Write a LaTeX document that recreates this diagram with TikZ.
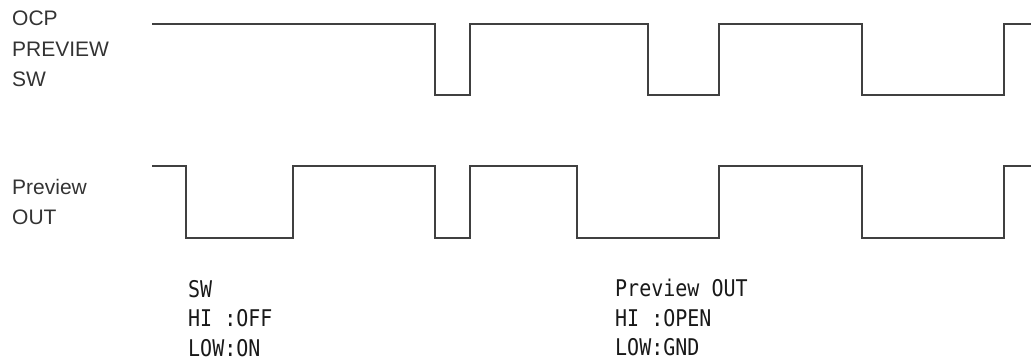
\documentclass[tikz,border=0pt]{standalone}
\usepackage{graphicx}
\usepackage{fontspec}
\setmainfont{Liberation Sans}
\setmonofont{DejaVu Sans Mono}
\newcommand{\tallmono}[1]{\scalebox{1}[1.15]{#1}}
\tikzset{
  signal/.style={line width=1.3pt, black!75, line join=miter},
  sig label/.style={anchor=north west, inner sep=0pt, align=left, text=black!80,
    font=\fontsize{21}{30.5}\selectfont},
  note label/.style={anchor=north west, inner sep=0pt, align=left, text=black!90,
    font=\ttfamily\fontsize{20}{29.5}\selectfont},
}
\begin{document}
\begin{tikzpicture}[x=1pt,y=-1pt]
  \useasboundingbox (0,0) rectangle (1031,360);
  % signal names
  \node[sig label] (swname) at (12,11) {OCP\\PREVIEW\\SW};
  \node[sig label] (outname) at (12,179) {Preview\\OUT};
  % OCP PREVIEW SW
  \draw[signal] (152,24) -- (435,24) -- (435,95) -- (470,95) -- (470,24)
    -- (648,24) -- (648,95) -- (719,95) -- (719,24)
    -- (862,24) -- (862,95) -- (1004,95) -- (1004,24) -- (1031,24);
  % Preview OUT
  \draw[signal] (152,166) -- (186,166) -- (186,238) -- (293,238) -- (293,166)
    -- (435,166) -- (435,238) -- (470,238) -- (470,166)
    -- (577,166) -- (577,238) -- (719,238) -- (719,166)
    -- (862,166) -- (862,238) -- (1004,238) -- (1004,166) -- (1031,166);
  % notes
  \node[note label] (swnote) at (188,280)
    {\tallmono{SW}\\\tallmono{HI~:OFF}\\\tallmono{LOW:ON}};
  \node[note label] (outnote) at (615,279)
    {\tallmono{Preview~OUT}\\\tallmono{HI~:OPEN}\\\tallmono{LOW:GND}};
\end{tikzpicture}
\end{document}
